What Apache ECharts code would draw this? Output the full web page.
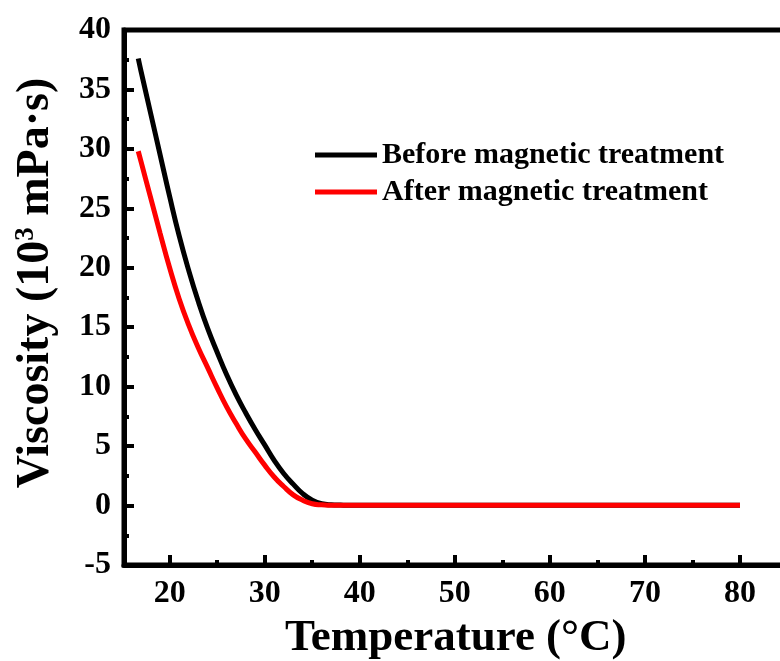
<!DOCTYPE html>
<html>
<head>
<meta charset="utf-8">
<script src="https://cdn.jsdelivr.net/npm/echarts@6/dist/echarts.min.js"></script>
<style>
  html, body { margin: 0; padding: 0; background: #fff; }
  #chart { width: 780px; height: 661px; }
</style>
</head>
<body>
<div id="chart"></div>
<script>
// Temperature sweep (°C)
const temperature = [16.7, 17, 18, 19, 20, 21, 22, 23, 24, 25, 26, 27, 28, 29, 30,
  31, 32, 33, 34, 35, 36, 37, 38, 39, 40,
  42, 44, 46, 48, 50, 52, 54, 56, 58, 60, 62, 64, 66, 68, 70, 72, 74, 76, 78, 80];

// Viscosity (10^3 mPa·s) before magnetic treatment
const beforeVals = [37.6, 36.5, 33.0, 29.5, 26.0, 22.7, 19.8, 17.2, 14.9, 12.9, 11.0, 9.3, 7.8, 6.4, 5.1,
  3.8, 2.7, 1.8, 1.0, 0.45, 0.15, 0.06, 0.04, 0.03, 0.03,
  0.03, 0.02, 0.03, 0.02, 0.02, 0.03, 0.02, 0.02, 0.02, 0.03, 0.02, 0.02, 0.02, 0.02, 0.03, 0.02, 0.02, 0.02, 0.02, 0.02];

// Viscosity (10^3 mPa·s) after magnetic treatment
const afterVals = [29.8, 28.9, 25.9, 22.9, 20.0, 17.4, 15.2, 13.3, 11.6, 9.9, 8.3, 6.9, 5.6, 4.5, 3.4,
  2.4, 1.6, 0.9, 0.45, 0.15, 0.06, 0.03, 0.02, 0.02, 0.02,
  0.02, 0.02, 0.02, 0.02, 0.02, 0.02, 0.02, 0.02, 0.02, 0.02, 0.02, 0.02, 0.02, 0.02, 0.02, 0.02, 0.02, 0.02, 0.02, 0.02];

const seriesNames = ['Before magnetic treatment', 'After magnetic treatment'];
const xMajorTicks = [20, 30, 40, 50, 60, 70, 80];
const xMinorTicks = [25, 35, 45, 55, 65, 75];

const FONT = '"Liberation Serif", "Times New Roman", serif';

const pairs = (xs, ys) => xs.map((x, i) => [x, ys[i]]);

const chart = echarts.init(document.getElementById('chart'), null, { renderer: 'canvas' });

chart.setOption({
  backgroundColor: '#fff',
  animation: false,
  grid: {
    left: 124, right: -7.5, top: 30, bottom: 96,
    outerBoundsMode: 'none', containLabel: false,
    show: true, borderColor: '#000', borderWidth: 5, backgroundColor: 'transparent'
  },
  legend: {
    orient: 'vertical',
    left: 310, top: 135,
    itemWidth: 62, itemHeight: 14, itemGap: 7,
    icon: 'path://M0,0 L62,0 L62,5 L0,5 Z',
    textStyle: { fontFamily: FONT, fontWeight: 'bold', fontSize: 30, color: '#000' },
    data: seriesNames
  },
  // Y-axis title, rotated, with a superscript exponent
  graphic: [{
    type: 'text',
    x: 36, y: 283,
    rotation: Math.PI / 2,
    style: {
      text: 'Viscosity (10{sup|3} mPa·s)',
      fontFamily: FONT, fontWeight: 'bold', fontSize: 46, fill: '#000',
      align: 'center', verticalAlign: 'middle',
      rich: {
        sup: { fontFamily: FONT, fontWeight: 'bold', fontSize: 27, fill: '#000', verticalAlign: 'top', padding: [0, 0, 18, 0] }
      }
    }
  }],
  xAxis: [{
    type: 'value', min: 15.2, max: 85,
    name: 'Temperature (°C)',
    nameLocation: 'middle', nameGap: 51,
    nameTextStyle: { fontFamily: FONT, fontWeight: 'bold', fontSize: 45, color: '#000' },
    axisLine: { onZero: false, lineStyle: { color: '#000', width: 5 } },
    axisTick: { inside: true, length: 10, lineStyle: { color: '#000', width: 4 }, customValues: xMajorTicks },
    axisLabel: { fontFamily: FONT, fontWeight: 'bold', fontSize: 32, color: '#000', margin: 13, customValues: xMajorTicks },
    splitLine: { show: false }
  }, {
    type: 'value', min: 15.2, max: 85, position: 'bottom',
    axisLine: { show: false, onZero: false },
    axisTick: { inside: true, length: 5, lineStyle: { color: '#000', width: 4 }, customValues: xMinorTicks },
    axisLabel: { show: false },
    splitLine: { show: false }
  }],
  yAxis: {
    type: 'value', min: -5, max: 40, interval: 5,
    axisLine: { onZero: false, lineStyle: { color: '#000', width: 5 } },
    axisTick: { inside: true, length: 10, lineStyle: { color: '#000', width: 4 } },
    minorTick: { show: true, splitNumber: 2, length: 5, lineStyle: { color: '#000', width: 4 } },
    axisLabel: { fontFamily: FONT, fontWeight: 'bold', fontSize: 32, color: '#000', margin: 13 },
    splitLine: { show: false }
  },
  series: [{
    name: seriesNames[0], type: 'line',
    data: pairs(temperature, beforeVals),
    smooth: 0.5,
    symbol: 'none',
    lineStyle: { color: '#000', width: 5 },
    itemStyle: { color: '#000' }
  }, {
    name: seriesNames[1], type: 'line',
    data: pairs(temperature, afterVals),
    smooth: 0.5,
    symbol: 'none',
    lineStyle: { color: '#ff0000', width: 5 },
    itemStyle: { color: '#ff0000' }
  }]
});
</script>
</body>
</html>
